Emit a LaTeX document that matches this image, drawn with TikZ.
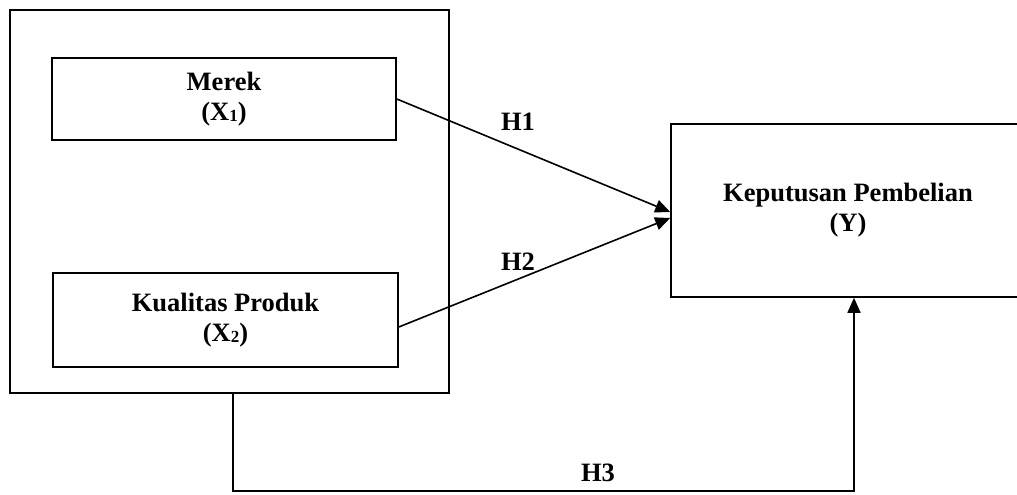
\documentclass[tikz,border=0pt]{standalone}
\usepackage{fontspec}
\setmainfont{Liberation Serif}
\usetikzlibrary{arrows.meta,calc}
\newcommand{\sub}[1]{\raisebox{-1.5bp}{\fontsize{17bp}{17bp}\selectfont #1}}
\begin{document}
\begin{tikzpicture}[x=1bp,y=-1bp,
  box/.style={draw,line width=1.6bp,inner sep=0pt,align=center,
    font=\fontsize{26.5bp}{30bp}\selectfont\bfseries},
  conn/.style={line width=1.6bp},
  arr/.style={conn,-{Triangle[length=15bp,width=13bp]}},
  lab/.style={font=\fontsize{26.5bp}{30bp}\selectfont\bfseries,inner sep=0pt}]
\useasboundingbox (0,0) rectangle (1017,495);
\clip (0,0) rectangle (1017,495);
\node[box,line width=2bp,minimum width=439bp,minimum height=383bp] (outer) at (229.5,201.5) {};
\node[box,minimum width=344bp,minimum height=82bp] (m) at (224,99) {Merek\\(X\sub{1})};
\node[box,minimum width=345bp,minimum height=94bp] (k) at (225.5,320) {Kualitas Produk\\(X\sub{2})};
\node[box,minimum width=354bp,minimum height=173bp] (y) at (848,210.5) {Keputusan Pembelian\\(Y)};
\coordinate (y1) at ($(y.west)+(0,1.5)$);
\coordinate (y2) at ($(y.west)+(0,7.5)$);
\coordinate (k1) at ($(k.east)+(0,7)$);
\coordinate (o1) at ($(outer.south)+(3.5,0)$);
\coordinate (yb) at ($(y.south)+(6,0)$);
\draw[arr] (m.east) -- (y1);
\draw[arr] (k1) -- (y2);
\draw[arr] (o1) -- ++(0,97) -| (yb);
\node[lab] (h1) at (518,122) {H1};
\node[lab] (h2) at (518,262) {H2};
\node[lab] (h3) at (598,473) {H3};
\end{tikzpicture}
\end{document}
